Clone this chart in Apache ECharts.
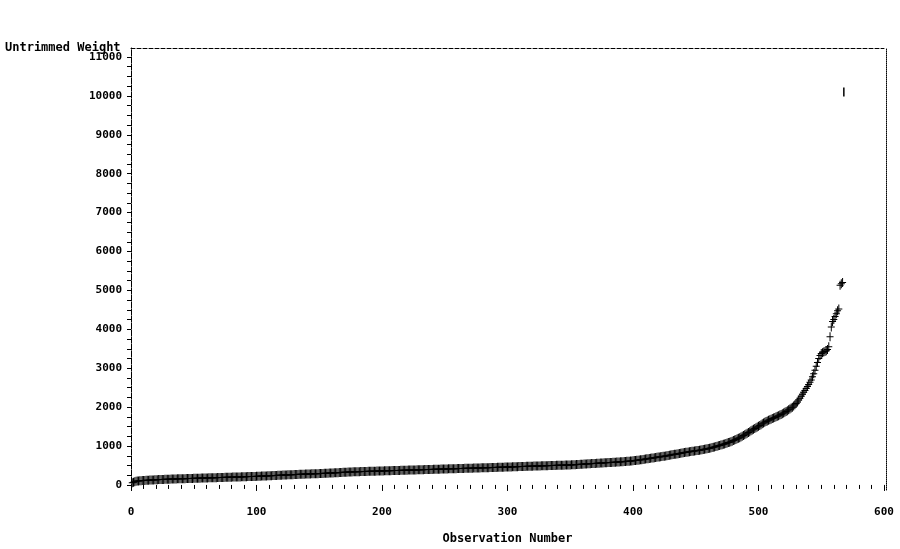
<!DOCTYPE html>
<html>
<head>
<meta charset="utf-8">
<script src="https://cdn.jsdelivr.net/npm/echarts@6/dist/echarts.min.js"></script>
<style>html,body{margin:0;padding:0;background:#fff}#c{width:900px;height:549px}</style>
</head>
<body>
<div id="c"></div>
<script>
// Untrimmed weights, sorted, observation 1..568
const weights = [
55,70,85,95,100,104,108,110,113,115,
117,119,121,122,124,126,128,130,132,135,
136,137,139,140,141,142,144,145,146,147,
148,150,151,152,153,155,156,157,158,159,
160,161,162,163,164,165,166,167,168,170,
171,172,173,174,175,176,177,178,179,180,
181,182,183,184,185,186,187,188,189,190,
191,192,193,194,195,196,197,198,199,200,
201,202,203,204,205,206,207,208,210,211,
212,213,214,215,216,217,218,219,220,221,
222,224,225,227,228,230,231,233,234,236,
237,239,240,242,243,245,246,248,250,251,
253,254,256,257,259,260,262,263,265,266,
268,269,271,272,274,275,277,278,280,281,
282,283,284,285,286,287,288,289,290,291,
293,295,296,298,300,301,303,305,306,308,
310,311,313,315,316,318,320,321,323,325,
326,328,330,331,333,334,336,337,339,340,
341,342,343,344,345,346,347,348,349,350,
351,352,353,354,355,356,357,358,359,360,
361,362,363,364,365,366,367,368,369,370,
371,372,373,374,375,376,377,378,379,380,
381,382,383,384,385,386,387,388,389,390,
391,392,393,394,395,396,397,398,399,400,
401,402,403,404,405,406,407,408,409,410,
411,412,413,414,415,416,417,418,419,420,
421,422,423,424,425,426,427,428,429,430,
431,432,433,434,435,436,437,438,439,440,
441,442,443,444,445,446,447,448,449,450,
451,452,453,454,455,456,457,458,459,460,
461,462,464,465,466,467,468,470,471,472,
473,474,475,476,478,479,480,481,482,483,
484,485,487,488,489,490,491,492,493,494,
495,496,497,498,499,500,501,502,503,504,
505,506,507,508,509,510,511,512,513,514,
516,518,520,522,524,526,528,530,532,534,
536,538,540,542,544,546,548,550,552,554,
556,558,560,562,564,566,568,570,572,574,
576,578,580,582,584,586,588,590,592,594,
596,598,600,603,606,609,612,615,618,621,
625,629,633,637,641,645,650,655,660,665,
670,675,680,685,690,695,700,705,710,715,
720,725,730,735,740,745,750,756,762,768,
774,780,786,792,798,804,810,816,822,828,
833,838,843,848,853,858,863,868,873,878,
883,888,893,898,903,910,917,924,931,938,
945,952,960,968,976,985,995,1005,1015,1025,
1035,1045,1055,1065,1075,1088,1100,1113,1126,1140,
1155,1170,1185,1200,1215,1230,1250,1270,1290,1310,
1330,1350,1370,1390,1410,1430,1450,1470,1490,1510,
1530,1550,1570,1590,1610,1630,1645,1660,1675,1690,
1705,1720,1735,1750,1765,1780,1795,1810,1830,1850,
1870,1890,1910,1930,1950,1975,2000,2030,2060,2090,
2130,2180,2230,2280,2330,2380,2430,2480,2530,2580,
2640,2700,2780,2860,2950,3050,3150,3250,3330,3380,
3400,3420,3430,3450,3480,3550,3810,4060,4200,4250,
4330,4400,4480,4520,5130,5170,5200,10100
];
const yLabelValues = [0,1000,2000,3000,4000,5000,6000,7000,8000,9000,10000,11000];
const xLabelValues = [0,100,200,300,400,500,600];
const yTitle = 'Untrimmed Weight';
const xTitle = 'Observation Number';

const yTickValues = [];
for (let v = 0; v <= 11000; v += 250) yTickValues.push(v);

const plusPath = 'path://M0,4L7,4L7,5L0,5ZM3,0L4,0L4,9L3,9Z';
const barPath = 'path://M0,0L1,0L1,9L0,9Z';
const seriesData = weights.map((w, i) => {
  const item = { value: [i + 1, w] };
  if (i === weights.length - 1) { item.symbol = barPath; item.symbolSize = [1.5, 9]; }
  return item;
});

const font = 'DejaVu Sans Mono';
const chart = echarts.init(document.getElementById('c'), null, { renderer: 'canvas' });
chart.setOption({
  animation: false,
  backgroundColor: '#ffffff',
  title: {
    text: yTitle, left: 0, top: 37,
    textStyle: { fontFamily: font, fontSize: 12, fontWeight: 'bold', color: '#000' }
  },
  grid: { left: 131, right: 16, top: 48, bottom: 59, outerBoundsMode: 'none', containLabel: false },
  xAxis: [{
    type: 'value', min: 0, max: 600, interval: 100, position: 'bottom',
    name: xTitle, nameLocation: 'middle', nameGap: 43,
    nameTextStyle: { fontFamily: font, fontSize: 12, fontWeight: 'bold', color: '#000' },
    axisLine: { show: false },
    axisTick: { show: true, length: 6, lineStyle: { color: '#000' } },
    minorTick: { show: true, splitNumber: 10, length: 4, lineStyle: { color: '#000' } },
    axisLabel: { margin: 17, fontFamily: font, fontSize: 11, fontWeight: 'bold', color: '#000',
      customValues: xLabelValues, formatter: v => String(v) },
    splitLine: { show: false }, minorSplitLine: { show: false }
  }, {
    type: 'value', min: 0, max: 600, position: 'top',
    axisLine: { show: true, onZero: false, lineStyle: { color: '#000', type: [4, 2], width: 1 } },
    axisTick: { show: false }, axisLabel: { show: false }, splitLine: { show: false }
  }],
  yAxis: [{
    type: 'value', min: -130, max: 11230, position: 'left',
    axisLine: { show: true, onZero: false, lineStyle: { color: '#000', type: [6, 1], width: 1 } },
    axisTick: { show: true, length: 4, customValues: yTickValues, lineStyle: { color: '#000' } },
    axisLabel: { margin: 9, fontFamily: font, fontSize: 11, fontWeight: 'bold', color: '#000',
      customValues: yLabelValues, formatter: v => String(v) },
    splitLine: { show: false }
  }, {
    type: 'value', min: -130, max: 11230, position: 'right', offset: 2,
    axisLine: { show: true, onZero: false, lineStyle: { color: '#000', type: [1, 1], width: 1 } },
    axisTick: { show: false }, axisLabel: { show: false }, splitLine: { show: false }
  }],
  series: [{
    type: 'scatter', xAxisIndex: 0, yAxisIndex: 0,
    symbol: plusPath, symbolSize: [7, 9],
    itemStyle: { color: '#000', opacity: 1 },
    emphasis: { disabled: true },
    data: seriesData
  }]
});
</script>
</body>
</html>
